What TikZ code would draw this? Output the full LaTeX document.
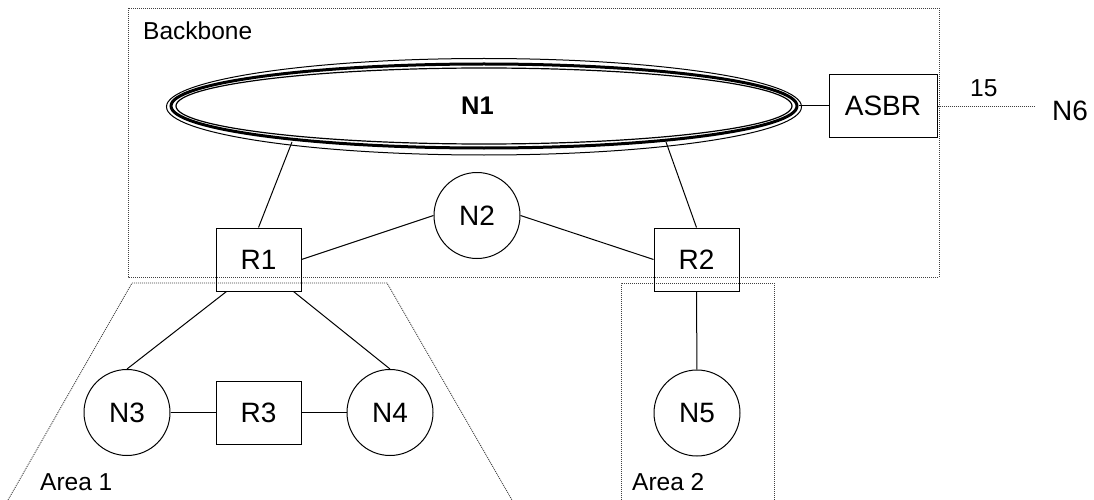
\documentclass[tikz,border=0pt]{standalone}
\usepackage{fontspec}
\setmainfont{Liberation Sans}
\usetikzlibrary{shapes.geometric}
\newcommand\ndfont{\fontsize{28}{32}\selectfont}
\newcommand\lbfont{\fontsize{24.5}{29}\selectfont}
\newcommand\bdfont{\fontsize{25.5}{30}\selectfont\bfseries}
\begin{document}
\begin{tikzpicture}[x=1pt,y=-1pt,
  router/.style={draw, rectangle, minimum width=85pt, minimum height=63pt, inner sep=0pt, line width=1pt, font=\ndfont},
  net/.style={draw, circle, minimum size=86pt, inner sep=0pt, line width=1pt, font=\ndfont},
  link/.style={line width=1pt},
  arealine/.style={line width=0.9pt, dash pattern=on 1pt off 1pt, black!75},
  lbl/.style={anchor=base west, inner sep=0pt, font=\lbfont}]
\useasboundingbox (0,0) rectangle (1094,500);
% area outlines
\draw[arealine] (128,8) rectangle (939,277);
\draw[arealine] (8,500) -- (132,283) -- (387,283) -- (512,500);
\draw[arealine] (621,500) -- (621,283) -- (774,283) -- (774,500);
% N1 network
\draw[line width=1pt] (484,106.75) ellipse [x radius=317.5, y radius=48.25];
\node[draw, ellipse, line width=3pt, minimum width=626pt, minimum height=84pt, inner sep=0pt, font=\bdfont] (N1) at (484,106) {N1\hspace*{13pt}};
\draw[line width=1.2pt] (N1.center) ellipse [x radius=308, y radius=38];
% routers
\node[router] (R1) at (258.5,259.5) {R1};
\node[router] (R2) at (696.5,259.5) {R2};
\node[router] (R3) at (258.5,412.5) {R3};
\node[router, minimum width=108pt, minimum height=62pt] (ASBR) at (883,106) {ASBR};
% networks
\node[net] (N2) at (477,215.5) {N2};
\node[net] (N3) at (127,412.5) {N3};
\node[net] (N4) at (390,412.5) {N4};
\node[net] (N5) at (697,413) {N5};
\node[anchor=base west, inner sep=0pt, font=\ndfont] (N6) at (1052,120.5) {N6};
% labels
\node[lbl] (bb) at (143,40) {Backbone};
\node[lbl] (a1) at (40,490) {Area 1};
\node[lbl] (a2) at (632,490) {Area 2};
\node[lbl] (c15) at (970,96.7) {15};
% connectors
\coordinate (n1a) at (292,142);
\coordinate (n1b) at (666,142);
\draw[link] (R1.north) -- (n1a);
\draw[link] (R2.north) -- (n1b);
\draw[link] (R1.east) -- (N2.west);
\draw[link] (N2.east) -- (R2.west);
\draw[link] ([xshift=11pt]R1.south west) -- (N3.north);
\draw[link] ([xshift=-8pt]R1.south east) -- (N4.north);
\draw[link] (N3) -- (R3);
\draw[link] (R3) -- (N4);
\draw[link] (R2) -- (N5);
\draw[link] (N1.east) -- (ASBR.west);
\draw[arealine, shorten >=17pt] (ASBR.east) -- (ASBR.east -| N6.west);
\end{tikzpicture}
\end{document}
